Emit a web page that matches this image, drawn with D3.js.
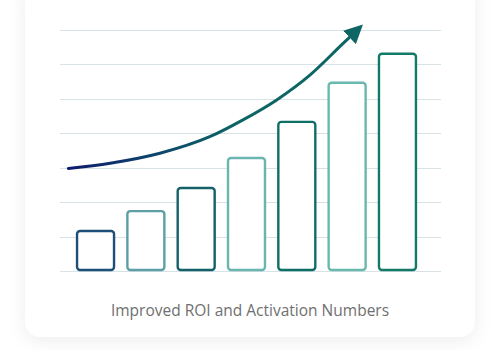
<!DOCTYPE html>
<html lang="en">
<head>
  <meta charset="UTF-8">
  <title>Improved ROI and Activation Numbers</title>
  <script src="https://d3js.org/d3.v7.min.js"></script>
  <style>
    html, body { margin: 0; padding: 0; background: #ffffff; }
    svg { display: block; }
    .caption { font-family: "Open Sans", sans-serif; font-size: 15.5px; fill: #6f6f6f; }
  </style>
</head>
<body>
  <div id="chart"></div>
  <script>
    // Chart data
    const periods = ["P1", "P2", "P3", "P4", "P5", "P6", "P7"];
    const values = [1.16, 1.74, 2.41, 3.28, 4.33, 5.47, 6.31];
    const barColors = ["#1d4f78", "#5e9ea6", "#14616a", "#6bb5b0", "#0f6f66", "#69b9ad", "#127a67"];
    const gridTicks = [0, 1, 2, 3, 4, 5, 6, 7];
    // trend arrow, x in bar-index units, y in value units
    const trendX = [-0.54, 0.29, 1.28, 2.27, 2.93, 3.60, 4.26, 4.92, 5.10];
    const trendY = [2.98, 3.13, 3.42, 3.90, 4.39, 4.97, 5.69, 6.61, 6.86];
    const caption = "Improved ROI and Activation Numbers";

    const width = 500, height = 350;

    const svg = d3.select("#chart").append("svg")
      .attr("width", width)
      .attr("height", height);

    const defs = svg.append("defs");

    // soft card shadow
    const shadow = defs.append("filter").attr("id", "shadow")
      .attr("x", "-20%").attr("y", "-20%").attr("width", "140%").attr("height", "140%");
    shadow.append("feDropShadow")
      .attr("dx", 0).attr("dy", 4).attr("stdDeviation", 9)
      .attr("flood-color", "#000").attr("flood-opacity", 0.07);

    svg.append("rect")
      .attr("x", 25).attr("y", -20)
      .attr("width", 450).attr("height", 357)
      .attr("rx", 16)
      .attr("fill", "#ffffff")
      .attr("filter", "url(#shadow)");

    // Scales
    const x = d3.scaleBand().domain(periods).range([69, 424]).paddingInner(0.265).paddingOuter(0.16);
    const y = d3.scaleLinear().domain([0, 7]).range([271, 30]);
    const xi = d3.scaleLinear()
      .domain([0, periods.length - 1])
      .range([x(periods[0]) + x.bandwidth() / 2, x(periods[periods.length - 1]) + x.bandwidth() / 2]);

    // Gridlines
    svg.append("g").selectAll("line")
      .data(gridTicks)
      .join("line")
      .attr("x1", 60).attr("x2", 441)
      .attr("y1", d => Math.round(y(d)) + 0.5)
      .attr("y2", d => Math.round(y(d)) + 0.5)
      .attr("stroke", "#d7e2e6")
      .attr("stroke-width", 1);

    // Bars
    svg.append("g").selectAll("rect")
      .data(values)
      .join("rect")
      .attr("x", (d, i) => x(periods[i]))
      .attr("y", d => y(d))
      .attr("width", x.bandwidth())
      .attr("height", d => y(0) - y(d) - 1)
      .attr("rx", 3)
      .attr("fill", "#ffffff")
      .attr("stroke", (d, i) => barColors[i])
      .attr("stroke-width", 2.4);

    // Trend arrow
    const grad = defs.append("linearGradient").attr("id", "trendGrad")
      .attr("gradientUnits", "userSpaceOnUse")
      .attr("x1", xi(trendX[0])).attr("y1", 0)
      .attr("x2", xi(2.8)).attr("y2", 0);
    grad.append("stop").attr("offset", "0%").attr("stop-color", "#0f1a6c");
    grad.append("stop").attr("offset", "50%").attr("stop-color", "#0e456b");
    grad.append("stop").attr("offset", "100%").attr("stop-color", "#0d6565");

    defs.append("marker").attr("id", "arrowHead")
      .attr("viewBox", "0 0 10 10")
      .attr("refX", 2).attr("refY", 5)
      .attr("markerWidth", 6.2).attr("markerHeight", 6.2)
      .attr("markerUnits", "strokeWidth")
      .attr("orient", "auto")
      .append("path")
      .attr("d", "M0,0 L10,5 L0,10 Z")
      .attr("fill", "#0d6565");

    const trendPts = trendX.map((d, i) => [xi(d), y(trendY[i])]);
    svg.append("path")
      .datum(trendPts)
      .attr("d", d3.line().curve(d3.curveMonotoneX))
      .attr("fill", "none")
      .attr("stroke", "url(#trendGrad)")
      .attr("stroke-width", 3)
      .attr("stroke-linecap", "round")
      .attr("marker-end", "url(#arrowHead)");

    // Caption
    svg.append("text")
      .attr("class", "caption")
      .attr("x", 250)
      .attr("y", 316)
      .attr("text-anchor", "middle")
      .text(caption);
  </script>
</body>
</html>
